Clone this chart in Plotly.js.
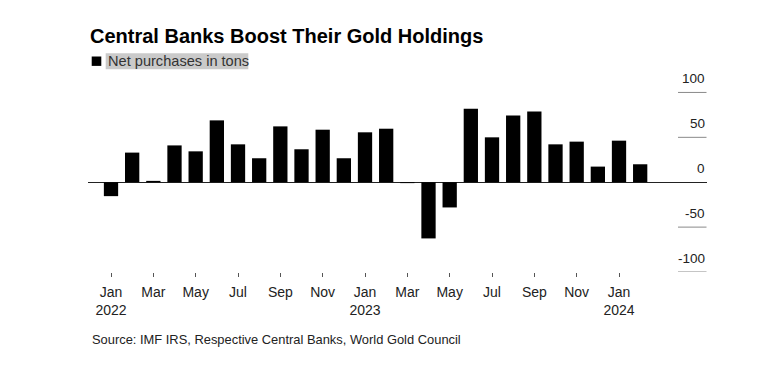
<!DOCTYPE html>
<html>
<head>
<meta charset="utf-8">
<script src="https://cdn.plot.ly/plotly-3.0.1.min.js"></script>
<style>
html,body{margin:0;padding:0;background:#fff;}
#chart{width:777px;height:366px;}
</style>
</head>
<body>
<div id="chart"></div>
<script>
// ---- data ----
var months = ["2022-01","2022-02","2022-03","2022-04","2022-05","2022-06","2022-07","2022-08","2022-09","2022-10","2022-11","2022-12",
              "2023-01","2023-02","2023-03","2023-04","2023-05","2023-06","2023-07","2023-08","2023-09","2023-10","2023-11","2023-12",
              "2024-01","2024-02"];
var netPurchases = [-15.5, 33, 1.5, 41, 34.4, 68.9, 42.2, 26.7, 62.2, 36.7, 58.5, 26.7,
                    55.6, 59.6, -1, -62.6, -28.1, 81.9, 50, 74.4, 78.9, 42.2, 45.2, 17.4,
                    46.3, 20];
var tickMonths = ["2022-01","2022-03","2022-05","2022-07","2022-09","2022-11","2023-01","2023-03","2023-05","2023-07","2023-09","2023-11","2024-01"];
var tickLabels = ["Jan<br>2022","Mar","May","Jul","Sep","Nov","Jan<br>2023","Mar","May","Jul","Sep","Nov","Jan<br>2024"];
var yTickValues = [100, 50, 0, -50, -100];
var yTickLabels = ["100", "50", "0", "-50", "-100"];

// ---- layout helpers ----
var W = 777, H = 366;
var L = 88, R = 707, T = 70, B = 272;
function px(x){ return (x - L) / (R - L); }
function py(y){ return (B - y) / (B - T); }
var FONT = "Liberation Sans, Arial, Helvetica, sans-serif";

var shapes = [];
var annotations = [];

// right-side gridline segments and labels
yTickValues.forEach(function(v, i){
  if (v !== 0) {
    shapes.push({type:'line', xref:'paper', yref:'y', x0:px(678), x1:px(706.5), y0:v, y1:v,
                 line:{color:'#8a8a8a', width:1}});
  }
  annotations.push({xref:'paper', yref:'y', x:px(706.5), y:v, xanchor:'right', yanchor:'middle',
                    yshift:13.5, text:yTickLabels[i], showarrow:false,
                    font:{family:FONT, size:13.5, color:'#222'}});
});

// legend: square + highlighted label
shapes.push({type:'rect', xref:'paper', yref:'paper', x0:px(105.7), x1:px(248.3), y0:py(69.3), y1:py(53.3),
             fillcolor:'#cacaca', line:{width:0}, layer:'below'});
shapes.push({type:'rect', xref:'paper', yref:'paper', x0:px(91.7), x1:px(101.3), y0:py(65.9), y1:py(56.5),
             fillcolor:'#000', line:{width:0}});
annotations.push({xref:'paper', yref:'paper', x:px(105.5), y:py(61.3), xanchor:'left', yanchor:'middle',
                  text:'Net purchases in tons', showarrow:false,
                  font:{family:FONT, size:14.6, color:'#333'}});
// source
annotations.push({xref:'paper', yref:'paper', x:px(89.5), y:py(339), xanchor:'left', yanchor:'middle',
                  text:'Source: IMF IRS, Respective Central Banks, World Gold Council', showarrow:false,
                  font:{family:FONT, size:12.9, color:'#222'}});

var trace = {
  type:'bar', x:months, y:netPurchases, name:'Net purchases in tons',
  marker:{color:'#000', line:{width:0}}, showlegend:false, hoverinfo:'x+y'
};

var layout = {
  width:W, height:H,
  margin:{l:L, r:W-R, t:T, b:H-B, pad:0},
  paper_bgcolor:'#fff', plot_bgcolor:'#fff',
  bargap:0.325,
  title:{text:'<b>Central Banks Boost Their Gold Holdings</b>', x:90/W, xanchor:'left', xref:'container',
         y:1-35.5/H, yanchor:'middle', yref:'container',
         font:{family:FONT, size:20, color:'#000'}},
  xaxis:{type:'category', categoryorder:'array', categoryarray:months,
         range:[(L-111)/21.167, (R-111)/21.167],
         tickmode:'array', tickvals:tickMonths, ticktext:tickLabels,
         ticks:'outside', ticklen:4, tickwidth:1, tickcolor:'#555', ticklabelstandoff:3,
         showgrid:false, showline:false, zeroline:false,
         tickfont:{family:FONT, size:14, color:'#222'}, fixedrange:true},
  yaxis:{range:[-100,125], showticklabels:false, showgrid:false, showline:false,
         zeroline:true, zerolinecolor:'#222', zerolinewidth:1, ticks:'', fixedrange:true},
  shapes:shapes,
  annotations:annotations
};

Plotly.newPlot('chart', [trace], layout, {displayModeBar:false, staticPlot:true});
</script>
</body>
</html>
